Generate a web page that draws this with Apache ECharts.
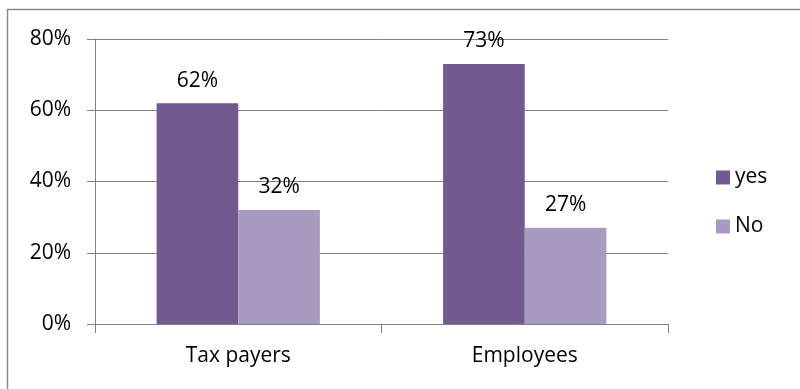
<!DOCTYPE html>
<html>
<head>
<meta charset="utf-8">
<script src="https://cdn.jsdelivr.net/npm/echarts@6/dist/echarts.min.js"></script>
<style>
  html, body { margin: 0; padding: 0; background: #fff; }
  #chart { width: 800px; height: 389px; }
</style>
</head>
<body>
<div id="chart"></div>
<script>
// Survey answers, in percent
const categories = ['Tax payers', 'Employees'];
const yesValues = [62, 73];
const noValues = [32, 27];
const seriesNames = ['yes', 'No'];

const FONT = 'Open Sans';
const chart = echarts.init(document.getElementById('chart'), null, { renderer: 'canvas' });

const labelStyle = {
  show: true,
  position: 'top',
  distance: 12,
  formatter: '{c}%',
  color: '#000',
  fontFamily: FONT,
  fontSize: 21
};

chart.setOption({
  animation: false,
  backgroundColor: '#fff',
  graphic: [{
    type: 'rect',
    shape: { x: 7.5, y: 9.5, width: 900, height: 500 },
    style: { fill: 'none', stroke: '#8a8a8a', lineWidth: 1.5 },
    silent: true,
    z: -1
  }],
  grid: { left: 95, right: 132, top: 39, bottom: 65 },
  legend: {
    orient: 'vertical',
    left: 711,
    top: 162,
    itemWidth: 14,
    itemHeight: 14,
    itemGap: 28,
    itemTextGap: 7,
    icon: 'rect',
    textStyle: { color: '#000', fontFamily: FONT, fontSize: 21 },
    data: seriesNames
  },
  xAxis: {
    type: 'category',
    data: categories,
    axisLine: { lineStyle: { color: '#808080', width: 1 } },
    axisTick: { show: true, length: 9, lineStyle: { color: '#808080' } },
    axisLabel: { color: '#000', fontFamily: FONT, fontSize: 21, margin: 22 }
  },
  yAxis: {
    type: 'value',
    min: 0,
    max: 80,
    interval: 20,
    axisLine: { show: true, lineStyle: { color: '#808080', width: 1 } },
    axisTick: { show: true, length: 8, lineStyle: { color: '#808080' } },
    splitLine: { show: true, lineStyle: { color: '#808080', width: 1 } },
    axisLabel: { color: '#000', fontFamily: FONT, fontSize: 21, margin: 24, formatter: '{value}%' }
  },
  series: [
    {
      name: seriesNames[0],
      type: 'bar',
      data: yesValues,
      barGap: '0%',
      barCategoryGap: '43%',
      itemStyle: { color: '#725990' },
      label: labelStyle
    },
    {
      name: seriesNames[1],
      type: 'bar',
      data: noValues,
      itemStyle: { color: '#a99bbf' },
      label: labelStyle
    }
  ]
});
</script>
</body>
</html>
